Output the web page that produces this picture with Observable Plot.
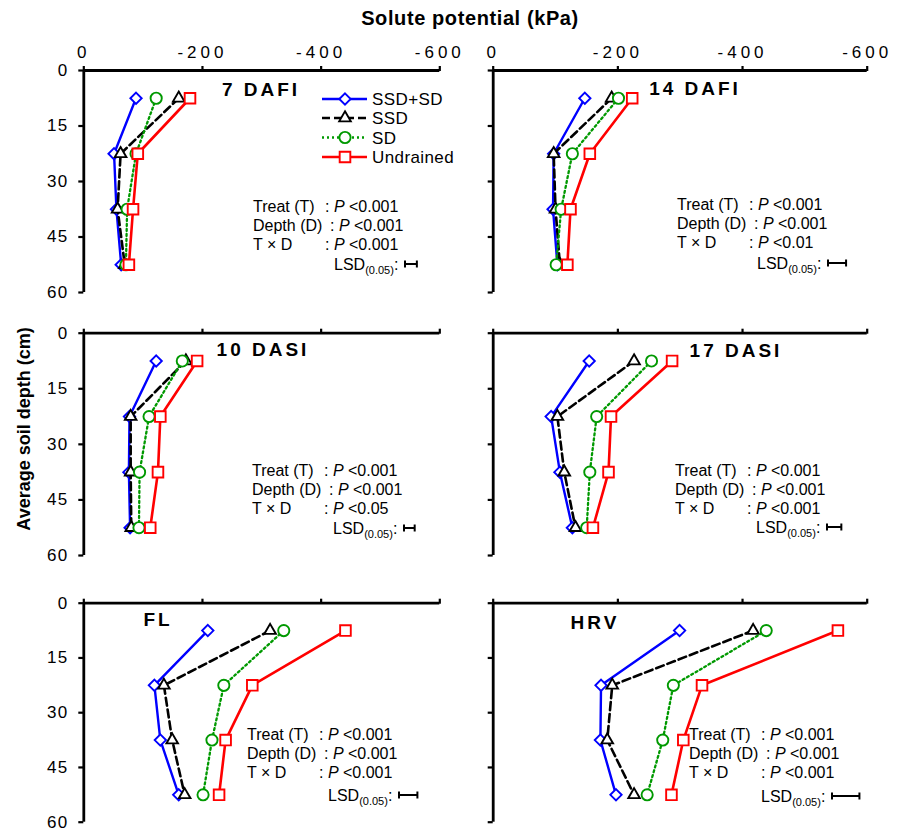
<!DOCTYPE html>
<html><head><meta charset="utf-8">
<script src="https://cdn.jsdelivr.net/npm/d3@7"></script>
<script src="https://cdn.jsdelivr.net/npm/@observablehq/plot@0.6"></script>
<style>
html,body{margin:0;padding:0;background:#fff;}
#wrap{position:relative;width:902px;height:833px;overflow:hidden;font-family:"Liberation Sans",Arial,sans-serif;background:#fff;}
#wrap svg{position:absolute;}
.ttl{position:absolute;font-weight:bold;white-space:nowrap;color:#000;}
#wrap g[aria-label="x-axis tick label"] text{letter-spacing:4px;}
#wrap g[aria-label="y-axis tick label"] text{letter-spacing:1.5px;}
</style></head><body>
<div id="wrap">
 <div class="ttl" style="left:470px;top:18px;font-size:20px;letter-spacing:0.6px;transform:translate(-50%,-50%)">Solute potential (kPa)</div>
 <div class="ttl" style="left:24px;top:429px;font-size:18px;transform:translate(-50%,-50%) rotate(-90deg)">Average soil depth (cm)</div>
</div>
<script>
// ---------- data ----------
const depths = [7.5, 22.5, 37.5, 52.5];
const seriesNames = ["SSD+SD", "SSD", "SD", "Undrained"];
const panelNames = ["7 DAFI", "14 DAFI", "10 DASI", "17 DASI", "FL", "HRV"];
const xTicks = [0, -200, -400, -600];
const yTicks = [0, 15, 30, 45, 60];
// values per panel: [SSD+SD, SSD, SD, Undrained] at depths 7.5, 22.5, 37.5, 52.5 (kPa)
const dafi7  = [[-88, -51, -55, -63], [-160, -62, -57, -69], [-122, -88, -73, -71], [-179, -91, -83, -76]];
const dafi14 = [[-147, -97, -96, -103], [-190, -97, -100, -107], [-201, -127, -109, -101], [-223, -155, -124, -119]];
const dasi10 = [[-122, -77, -76, -78], [-172, -79, -79, -80], [-166, -110, -94, -93], [-191, -129, -125, -112]];
const dasi17 = [[-154, -93, -107, -127], [-226, -103, -114, -132], [-254, -166, -155, -150], [-287, -189, -185, -160]];
const fl     = [[-209, -119, -129, -160], [-314, -135, -149, -170], [-337, -236, -216, -201], [-441, -284, -239, -228]];
const hrv    = [[-299, -173, -172, -197], [-417, -191, -183, -226], [-438, -289, -272, -247], [-553, -335, -305, -286]];
const lsd = [20, 29, 18, 23, 31, 44];
const pTreat = ["<0.001", "<0.001", "<0.001", "<0.001", "<0.001", "<0.001"];
const pDepth = ["<0.001", "<0.001", "<0.001", "<0.001", "<0.001", "<0.001"];
const pTxD   = ["<0.001", "<0.01", "<0.05", "<0.001", "<0.001", "<0.001"];
const statLabels = ["Treat (T)", "Depth (D)", "T \u00d7 D"];

// ---------- styles / layout ----------
const panels = [dafi7, dafi14, dasi10, dasi17, fl, hrv];
const sty = [
  {color: "#0000ff", w: 2.4, dash: null, symbol: "diamond2", r: 5.1},
  {color: "#000000", w: 2.6, dash: "8,4", symbol: "triangle", r: 4.3},
  {color: "#009900", w: 2.3, dash: "2,3", symbol: "circle", r: 5.6},
  {color: "#ff0000", w: 2.6, dash: null, symbol: "square", r: 6.0}
];
const cols = [{left: 0, w: 451, fl: 83.3, fr: 439.3}, {left: 451, w: 451, fl: 492.7, fr: 866.7}];
const rowsG = [{top: 0, h: 300, ft: 70, fb: 292}, {top: 300, h: 265, ft: 332.7, fb: 555}, {top: 565, h: 268, ft: 602.7, fb: 821.7}];
// annotation anchors (page px)
const ann = [
  {tx: 261, ty: 89, sx: 253, sy: 206, lx: 334, ly: 264},
  {tx: 695, ty: 88, sx: 677, sy: 204, lx: 757, ly: 263},
  {tx: 263, ty: 349, sx: 252, sy: 470, lx: 333, ly: 528},
  {tx: 736, ty: 350, sx: 675, sy: 470, lx: 756, ly: 527},
  {tx: 158, ty: 619, sx: 247, sy: 734, lx: 328, ly: 795},
  {tx: 595, ty: 622, sx: 689, sy: 734, lx: 761, ly: 796}
];
const wrap = document.getElementById("wrap");
const fmtX = d => d === 0 ? "0" : "-" + Math.abs(d);

panels.forEach((vals, i) => {
  const col = i % 2, row = Math.floor(i / 2);
  const C = cols[col], R = rowsG[row];
  const marks = [
    Plot.axisX({anchor: "top", ticks: xTicks, tickSize: 5, tickPadding: 8, strokeWidth: 2.2,
      tickFormat: row === 0 ? fmtX : () => "", label: null}),
    Plot.axisY({anchor: "left", ticks: yTicks, tickSize: 5, tickPadding: 10, strokeWidth: 2.2,
      tickFormat: col === 0 ? d => String(d) : () => "", label: null}),
    Plot.ruleY([0], {strokeWidth: 2.8}),
    Plot.ruleX([0], {strokeWidth: 2.8})
  ];
  seriesNames.forEach((name, s) => {
    const d = vals[s].map((v, k) => ({series: name, x: v, y: depths[k]}));
    marks.push(Plot.line(d, {x: "x", y: "y", stroke: sty[s].color, strokeWidth: sty[s].w, strokeDasharray: sty[s].dash}));
    marks.push(Plot.dot(d, {x: "x", y: "y", symbol: sty[s].symbol, r: sty[s].r, stroke: sty[s].color, fill: "white", strokeWidth: 1.9}));
  });
  const svg = Plot.plot({
    width: C.w, height: R.h,
    marginLeft: C.fl - C.left, marginRight: C.left + C.w - C.fr,
    marginTop: R.ft - R.top, marginBottom: R.top + R.h - R.fb,
    x: {domain: [0, -600]},
    y: {domain: [0, 60], reverse: true},
    style: {background: "transparent", fontFamily: "'Liberation Sans', Arial, sans-serif", fontSize: "17px", color: "black", overflow: "visible"},
    marks
  });
  svg.style.left = C.left + "px";
  svg.style.top = R.top + "px";
  wrap.appendChild(svg);

  const ox = C.left, oy = R.top;
  const g = d3.select(svg).append("g").attr("font-family", "'Liberation Sans', Arial, sans-serif")
    .attr("fill", "black").attr("text-anchor", "start");
  const A = ann[i];
  // panel title
  g.append("text").attr("x", A.tx - ox).attr("y", A.ty - oy).attr("dy", "0.36em")
    .attr("text-anchor", "middle").attr("font-weight", "bold").attr("font-size", 19)
    .attr("letter-spacing", "3px").text(panelNames[i]);
  // statistics
  const pv = [pTreat[i], pDepth[i], pTxD[i]];
  const colonDx = [72, 77, 72];
  statLabels.forEach((lab, k) => {
    const y = A.sy + k * 19 - oy;
    g.append("text").attr("x", A.sx - ox).attr("y", y).attr("dy", "0.36em").attr("font-size", 16).text(lab);
    const t = g.append("text").attr("x", A.sx + colonDx[k] - ox).attr("y", y).attr("dy", "0.36em").attr("font-size", 16);
    t.append("tspan").text(": ");
    t.append("tspan").attr("font-style", "italic").text("P");
    t.append("tspan").text(" " + pv[k]);
  });
  const lt = g.append("text").attr("x", A.lx - ox).attr("y", A.ly - oy).attr("dy", "0.36em").attr("font-size", 16);
  lt.append("tspan").text("LSD");
  lt.append("tspan").attr("font-size", 11).attr("dy", 4).text("(0.05)");
  lt.append("tspan").attr("dy", -4).text(":");
  const xs = svg.scale("x");
  const lsdPx = Math.abs(xs.apply(-lsd[i]) - xs.apply(0));
  const bx = A.lx + 71 - ox, by = A.ly - oy;
  const bar = g.append("g").attr("stroke", "black").attr("stroke-width", 2);
  bar.append("line").attr("x1", bx).attr("x2", bx + lsdPx).attr("y1", by).attr("y2", by);
  bar.append("line").attr("x1", bx).attr("x2", bx).attr("y1", by - 3.5).attr("y2", by + 3.5);
  bar.append("line").attr("x1", bx + lsdPx).attr("x2", bx + lsdPx).attr("y1", by - 3.5).attr("y2", by + 3.5);

  // legend in first panel
  if (i === 0) {
    const lg = g.append("g");
    const ly0 = [99, 118, 137.5, 157];
    const symMap = {diamond2: d3.symbolDiamond2, triangle: d3.symbolTriangle, circle: d3.symbolCircle, square: d3.symbolSquare};
    seriesNames.forEach((name, s) => {
      const y = ly0[s];
      lg.append("line").attr("x1", 322).attr("x2", 367).attr("y1", y).attr("y2", y)
        .attr("stroke", sty[s].color).attr("stroke-width", sty[s].w).attr("stroke-dasharray", sty[s].dash);
      lg.append("path").attr("transform", `translate(345,${y})`)
        .attr("d", d3.symbol(symMap[sty[s].symbol], Math.PI * sty[s].r * sty[s].r)())
        .attr("fill", "white").attr("stroke", sty[s].color).attr("stroke-width", 1.9);
      lg.append("text").attr("x", 372).attr("y", y).attr("dy", "0.36em").attr("font-size", 17)
        .attr("letter-spacing", "0.4px").text(name);
    });
  }
});
</script>
</body></html>
